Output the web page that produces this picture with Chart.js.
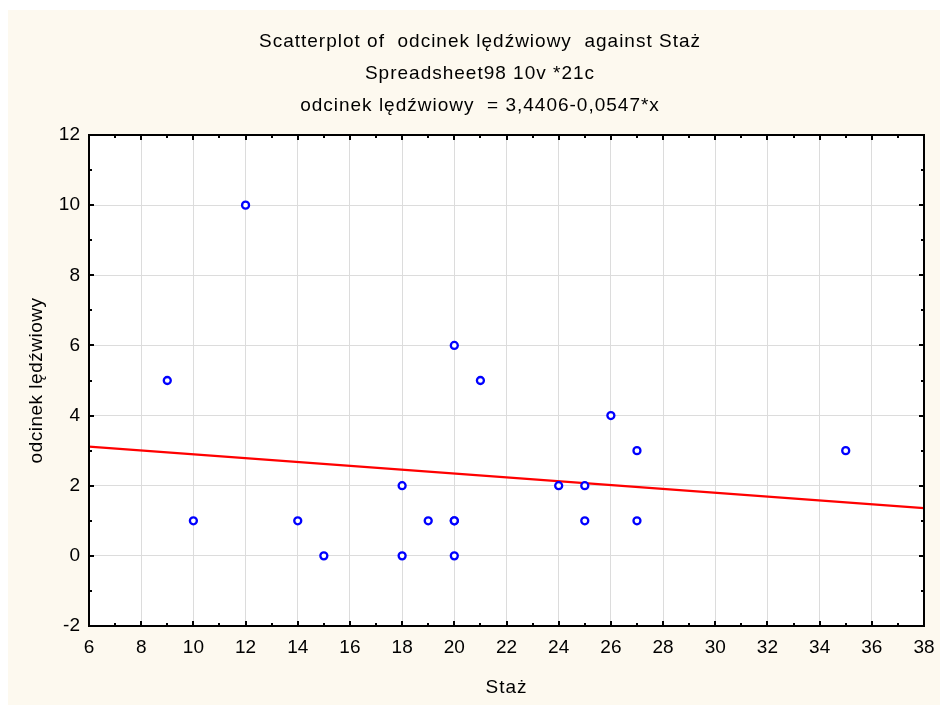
<!DOCTYPE html>
<html>
<head>
<meta charset="utf-8">
<script src="https://cdn.jsdelivr.net/npm/chart.js@4.4.1/dist/chart.umd.min.js"></script>
<style>
  html, body { margin: 0; padding: 0; background: #fff; }
  #scatter { display: block; }
</style>
</head>
<body>
<canvas id="scatter" width="940" height="705"></canvas>
<script>
  // dane
  var stazValues = [9, 10, 12, 14, 15, 18, 18, 19, 20, 20, 20, 20, 21, 24, 25, 25, 26, 27, 27, 35];
  var odcinekValues = [5, 1, 10, 1, 0, 2, 0, 1, 6, 1, 1, 0, 5, 2, 2, 1, 4, 3, 1, 3];
  var fitX = [6, 38];
  var fitY = [3.1124, 1.3620];
  var xTicks = [6, 8, 10, 12, 14, 16, 18, 20, 22, 24, 26, 28, 30, 32, 34, 36, 38];
  var yTicks = [-2, 0, 2, 4, 6, 8, 10, 12];
  var titleLines = ['Scatterplot of  odcinek lędźwiowy  against Staż', 'Spreadsheet98 10v *21c', 'odcinek lędźwiowy  = 3,4406-0,0547*x'];
  var xTitle = 'Staż';
  var yTitle = 'odcinek lędźwiowy';

  var FONT = 'Arial, "Liberation Sans", sans-serif';

  var frame = {
    id: 'frame',
    beforeDraw: function(chart) {
      var c = chart.ctx, a = chart.chartArea;
      c.save();
      c.fillStyle = '#fdf9ef';
      c.fillRect(8, 10, chart.width - 8, chart.height - 10);
      c.fillStyle = '#ffffff';
      c.fillRect(a.left, a.top, a.right - a.left, a.bottom - a.top);
      c.restore();
    },
    afterDraw: function(chart) {
      var c = chart.ctx, a = chart.chartArea;
      var xs = chart.scales.x, ys = chart.scales.y;
      c.save();
      c.strokeStyle = '#000';
      c.lineWidth = 2;
      c.strokeRect(a.left, a.top, a.right - a.left, a.bottom - a.top);
      c.beginPath();
      for (var v = xs.min; v <= xs.max; v += 1) {
        var px = Math.round(xs.getPixelForValue(v));
        var len = (v % 2 === 0) ? 5 : 3;
        c.moveTo(px, a.bottom); c.lineTo(px, a.bottom - len);
        c.moveTo(px, a.top); c.lineTo(px, a.top + len);
      }
      for (var w = ys.min; w <= ys.max; w += 1) {
        var py = Math.round(ys.getPixelForValue(w));
        var l2 = (w % 2 === 0) ? 5 : 3;
        c.moveTo(a.left, py); c.lineTo(a.left + l2, py);
        c.moveTo(a.right, py); c.lineTo(a.right - l2, py);
      }
      c.stroke();
      // tytuły
      c.fillStyle = '#000';
      c.font = '19px ' + FONT;
      c.textAlign = 'center';
      c.textBaseline = 'middle';
      c.letterSpacing = '1px';
      titleLines.forEach(function(t, i) {
        c.fillText(t, 480, 42 + i * 32);
      });
      c.fillText(xTitle, (a.left + a.right) / 2, 688);
      c.letterSpacing = '0.5px';
      c.translate(37, (a.top + a.bottom) / 2);
      c.rotate(-Math.PI / 2);
      c.fillText(yTitle, 0, 0);
      c.restore();
    }
  };

  new Chart(document.getElementById('scatter'), {
    type: 'scatter',
    data: {
      datasets: [{
        label: 'odcinek lędźwiowy',
        data: stazValues.map(function(x, i) { return {x: x, y: odcinekValues[i]}; }),
        pointStyle: 'circle',
        pointRadius: 3.5,
        pointBorderWidth: 2.3,
        pointBorderColor: '#0000ff',
        pointBackgroundColor: '#ffffff',
        order: 1
      }, {
        type: 'line',
        label: 'fit',
        data: fitX.map(function(x, i) { return {x: x, y: fitY[i]}; }),
        borderColor: '#ff0000',
        borderWidth: 2.2,
        pointRadius: 0,
        fill: false,
        order: 2
      }]
    },
    options: {
      responsive: false,
      animation: false,
      devicePixelRatio: 1,
      layout: { padding: { top: 135, right: 16, left: 0, bottom: 0 } },
      plugins: { legend: { display: false }, tooltip: { enabled: false }, title: { display: false } },
      scales: {
        x: {
          type: 'linear',
          min: 6, max: 38,
          afterFit: function(s) { s.height = 79; s.paddingLeft = 0; s.paddingRight = 0; },
          afterBuildTicks: function(s) { s.ticks = xTicks.map(function(v) { return {value: v}; }); },
          border: { display: false },
          grid: { display: true, color: '#dcdcdc', lineWidth: 1, drawTicks: false },
          ticks: { color: '#000', padding: 10, font: { family: FONT, size: 19 } }
        },
        y: {
          type: 'linear',
          min: -2, max: 12,
          afterFit: function(s) { s.width = 89; },
          afterBuildTicks: function(s) { s.ticks = yTicks.map(function(v) { return {value: v}; }); },
          border: { display: false },
          grid: { display: true, color: '#dcdcdc', lineWidth: 1, drawTicks: false },
          ticks: { color: '#000', padding: 9, font: { family: FONT, size: 19 } }
        }
      }
    },
    plugins: [frame]
  });
</script>
</body>
</html>
